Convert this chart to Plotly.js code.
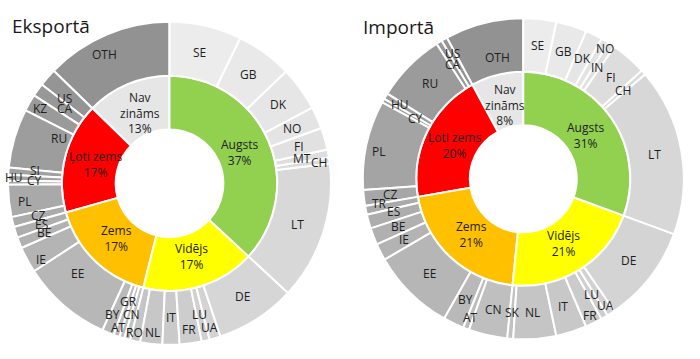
<!DOCTYPE html>
<html>
<head>
<meta charset="utf-8">
<script src="https://cdn.plot.ly/plotly-3.0.1.min.js"></script>
<style>html,body{margin:0;padding:0;background:#fff;}#chart{width:700px;height:359px;}</style>
</head>
<body>
<div id="chart"></div>
<script>
// ---- categories (inner ring), clockwise from 12 o'clock ----
const categories = ['Augsts', 'Vidējs', 'Zems', 'Ļoti zems', 'Nav zināms'];
const categoryText = ['Augsts', 'Vidējs', 'Zems', 'Ļoti zems', 'Nav<br>zināms'];
const categoryColors = ['#92d050', '#ffff00', '#ffc000', '#ff0000', '#e6e6e6'];

// ---- Eksportā (outer ring, % of total), clockwise ----
const expAugstsLabels = ['SE', 'GB', 'DK', 'NO', 'FI', 'MT', 'CH', 'LT'];
const expAugstsValues = [7.2, 5.6, 4.4, 2.2, 2.2, 0.8, 0.6, 13.8];
const expVidejsLabels = ['DE', 'UA', 'LU', 'FR', 'IT', 'NL', 'RO'];
const expVidejsValues = [8.0, 1.1, 0.8, 2.2, 1.7, 2.2, 1.0];
const expZemsLabels = ['CN', 'GR', 'AT', 'BY', 'EE', 'IE', 'BE', 'ES'];
const expZemsValues = [0.6, 0.5, 0.6, 1.2, 9.0, 2.6, 1.1, 1.1];
const expLotiLabels = ['CZ', 'PL', 'CY', 'HU', 'SI', 'RU', 'KZ', 'CA', 'US'];
const expLotiValues = [1.0, 3.2, 0.4, 0.6, 0.7, 5.9, 1.7, 1.3, 1.8];
const expNavLabels = ['OTH'];
const expNavValues = [12.7];

// ---- Importā (outer ring, % of total), clockwise ----
const impAugstsLabels = ['SE', 'GB', 'DK', 'NO', 'IN', 'FI', 'CH', 'LT'];
const impAugstsValues = [3.3, 3.1, 1.7, 0.8, 0.7, 3.6, 0.5, 16.9];
const impVidejsLabels = ['DE', 'UA', 'LU', 'FR', 'IT', 'NL', 'SK'];
const impVidejsValues = [9.8, 0.8, 0.7, 1.7, 3.1, 4.3, 0.6];
const impZemsLabels = ['CN', 'AT', 'BY', 'EE', 'IE', 'BE', 'ES', 'TR'];
const impZemsValues = [3.9, 0.6, 2.1, 8.4, 1.7, 1.7, 1.4, 0.9];
const impLotiLabels = ['CZ', 'PL', 'CY', 'HU', 'RU', 'CA', 'US'];
const impLotiValues = [1.6, 9.0, 0.4, 0.6, 7.0, 0.6, 0.6];
const impNavLabels = ['OTH'];
const impNavValues = [7.9];

const titles = ['Eksportā', 'Importā'];

// label nudges (style only): [radial px, angle deg]
const expNudge = {CH: [16, 0], UA: [15, 1], FR: [13, 0], NL: [16, 0], RO: [19, 1], CN: [2, 1],
  GR: [-10, 2], AT: [18, 0.5], BY: [8, 1], EE: [-6, 5], IE: [15, -2.5], PL: [12, -1],
  CY: [0, 1], HU: [21, 0], SI: [0, 1], RU: [-15, 6], KZ: [15, 0], CA: [-6, 0], US: [1, -2], OTH: [10, -4]};
const impNudge = {NO: [20, 1.4], UA: [17, 0], FR: [18, 0], AT: [15, 0], TR: [12, 1.5], ES: [0, 1.3],
  PL: [14, -1.6], CY: [-10, 0], HU: [10, 0], US: [10, 0], OTH: [-10, 2], RU: [0, 1]};

const W = 700, H = 359;
const FONT = 'Open Sans';

function greyAt(k, n) {
  const light = 236, dark = 146;
  const g = Math.round(light - (n > 1 ? k / (n - 1) : 0) * (light - dark));
  return 'rgb(' + g + ',' + g + ',' + g + ')';
}

function buildTrace(prefix, groupLabels, groupValues, domain) {
  const ids = [prefix + 'root'], labels = [''], parents = [''], values = [0];
  const colors = ['#ffffff'];
  const n = groupLabels.reduce((s, g) => s + g.length, 0);
  const shade = [];
  let k = 0;
  groupLabels.forEach(g => { shade.push(g.map(() => k++)); });
  // plotly lays sectors out counter-clockwise: feed reversed order
  for (let c = categories.length - 1; c >= 0; c--) {
    const cid = prefix + 'cat' + c;
    ids.push(cid); labels.push(categories[c]); parents.push(prefix + 'root'); values.push(0);
    colors.push(categoryColors[c]);
    for (let j = groupLabels[c].length - 1; j >= 0; j--) {
      ids.push(cid + '_' + groupLabels[c][j]);
      labels.push(groupLabels[c][j]);
      parents.push(cid);
      values.push(groupValues[c][j]);
      colors.push(greyAt(shade[c][j], n));
    }
  }
  return {
    type: 'sunburst',
    ids: ids, labels: labels, parents: parents, values: values,
    branchvalues: 'remainder',
    sort: false,
    rotation: 90,
    texttemplate: ' ',
    marker: {colors: colors, line: {color: '#ffffff', width: 2}},
    leaf: {opacity: 1},
    hoverinfo: 'none',
    domain: domain
  };
}

function geom(domain) {
  const cx = (domain.x[0] + domain.x[1]) / 2 * W;
  const cy = H - (domain.y[0] + domain.y[1]) / 2 * H;
  const R = Math.min((domain.x[1] - domain.x[0]) * W, (domain.y[1] - domain.y[0]) * H) / 2;
  return {cx, cy, R};
}

function ann(text, px, py) {
  return {text: text, xref: 'paper', yref: 'paper', x: px / W, y: (H - py) / H,
    xanchor: 'center', yanchor: 'middle', showarrow: false,
    font: {family: FONT, size: 12, color: '#1e1e1e'}};
}

// inner-ring labels: category name and share, at each sector's middle
function innerLabels(groupValues, domain) {
  const g = geom(domain);
  const totals = groupValues.map(v => v.reduce((a, b) => a + b, 0));
  const total = totals.reduce((a, b) => a + b, 0);
  const r = g.R * 0.475;
  const anns = [];
  let cum = 0;
  totals.forEach((t, c) => {
    const ang = (cum + t / 2) / total * 2 * Math.PI;
    const pct = Math.round(t / total * 100) + '%';
    anns.push(ann(categoryText[c] + '<br>' + pct, g.cx + r * Math.sin(ang), g.cy - r * Math.cos(ang)));
    cum += t;
  });
  return anns;
}

// outer-ring labels, placed at each sector's middle (angle from the data values)
function outerLabels(groupLabels, groupValues, domain, nudge) {
  const g = geom(domain);
  const rMid = g.R * 5 / 6;
  const total = groupValues.flat().reduce((a, b) => a + b, 0);
  const anns = [];
  let cum = 0;
  groupLabels.forEach((grp, c) => {
    grp.forEach((lab, j) => {
      const v = groupValues[c][j];
      const nd = nudge[lab] || [0, 0];
      const ang = ((cum + v / 2) / total * 360 + nd[1]) * Math.PI / 180;
      const r = rMid + nd[0];
      anns.push(ann(lab, g.cx + r * Math.sin(ang), g.cy - r * Math.cos(ang)));
      cum += v;
    });
  });
  return anns;
}

const expDomain = {x: [8 / W, 331 / W], y: [(H - 344.8) / H, (H - 21.8) / H]};
const impDomain = {x: [362.8 / W, 683.8 / W], y: [(H - 339.3) / H, (H - 18.3) / H]};
const expGroupsL = [expAugstsLabels, expVidejsLabels, expZemsLabels, expLotiLabels, expNavLabels];
const expGroupsV = [expAugstsValues, expVidejsValues, expZemsValues, expLotiValues, expNavValues];
const impGroupsL = [impAugstsLabels, impVidejsLabels, impZemsLabels, impLotiLabels, impNavLabels];
const impGroupsV = [impAugstsValues, impVidejsValues, impZemsValues, impLotiValues, impNavValues];

const exportTrace = buildTrace('e_', expGroupsL, expGroupsV, expDomain);
const importTrace = buildTrace('i_', impGroupsL, impGroupsV, impDomain);

const layout = {
  width: W, height: H,
  margin: {l: 0, r: 0, t: 0, b: 0},
  paper_bgcolor: '#ffffff',
  showlegend: false,
  annotations: [
    {text: titles[0], xref: 'paper', yref: 'paper', x: 10 / W, y: (H - 25.5) / H,
     xanchor: 'left', yanchor: 'middle', showarrow: false,
     font: {family: FONT, size: 19, color: '#1a1a1a'}},
    {text: titles[1], xref: 'paper', yref: 'paper', x: 361 / W, y: (H - 27) / H,
     xanchor: 'left', yanchor: 'middle', showarrow: false,
     font: {family: FONT, size: 19, color: '#1a1a1a'}}
  ].concat(innerLabels(expGroupsV, expDomain))
   .concat(innerLabels(impGroupsV, impDomain))
   .concat(outerLabels(expGroupsL, expGroupsV, expDomain, expNudge))
   .concat(outerLabels(impGroupsL, impGroupsV, impDomain, impNudge))
};

Plotly.newPlot('chart', [exportTrace, importTrace], layout, {staticPlot: true, displayModeBar: false});
</script>
</body>
</html>
